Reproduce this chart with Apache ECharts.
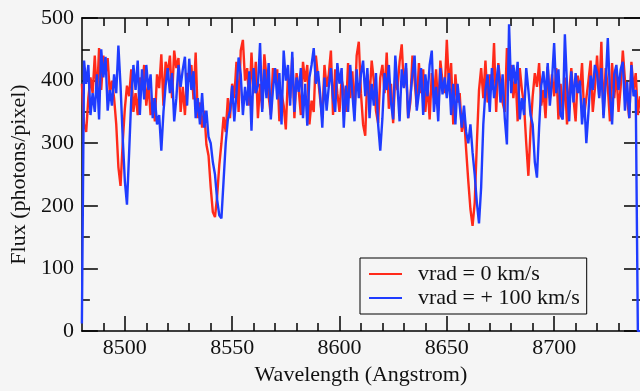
<!DOCTYPE html>
<html>
<head>
<meta charset="utf-8">
<title>Ca triplet spectra</title>
<script src="https://cdn.jsdelivr.net/npm/echarts@6/dist/echarts.min.js"></script>
<style>
  html, body { margin: 0; padding: 0; background: #f5f5f5; }
  #chart { width: 640px; height: 391px; }
</style>
</head>
<body>
<div id="chart"></div>
<script>
// wavelength grid: 8480 .. 8740 Angstrom, 1 A per sample
var lambdaStart = 8480
var lambdaStep = 1

// flux at vrad = 0 km/s
var fluxRest = [
  395, 330, 318, 372, 405, 380, 440, 372, 452, 385,
  440, 410, 436, 380, 400, 372, 330, 262, 232, 300,
  355, 392, 375, 418, 350, 380, 345, 405, 390, 425,
  360, 395, 345, 372, 335, 410, 388, 442, 360, 430,
  412, 440, 372, 448, 420, 436, 350, 390, 345, 412,
  398, 425, 370, 445, 340, 365, 325, 352, 298, 280,
  230, 190, 182, 215, 265, 300, 342, 318, 372, 340,
  395, 372, 430, 350, 448, 465, 400, 420, 360, 445,
  380, 430, 340, 395, 355, 442, 405, 375, 345, 420,
  398, 418, 335, 380, 360, 322, 410, 372, 437, 340,
  412, 385, 345, 430, 398, 425, 330, 368, 350, 440,
  405, 370, 340, 425, 390, 410, 448, 345, 418, 380,
  350, 402, 385, 350, 428, 372, 415, 345, 440, 462,
  380, 330, 312, 410, 372, 432, 400, 352, 332, 405,
  425, 380, 445, 355, 395, 332, 410, 385, 430, 458,
  390, 420, 340, 365, 440, 400, 358, 428, 380, 418,
  350, 395, 338, 412, 372, 418, 352, 432, 398, 380,
  465, 390, 428, 330, 410, 365, 380, 318, 345, 290,
  240, 195, 168, 205, 300, 385, 420, 372, 432, 365,
  410, 385, 460, 350, 428, 395, 365, 350, 452, 400,
  425, 372, 410, 335, 420, 385, 360, 300, 248, 320,
  375, 412, 390, 428, 360, 385, 340, 422, 372, 410,
  375, 420, 338, 395, 348, 405, 330, 380, 420, 372,
  335, 408, 380, 428, 345, 372, 400, 432, 350, 388,
  440, 375, 462, 345, 420, 390, 335, 428, 372, 415,
  350, 390, 448, 400, 372, 340, 430, 385, 412, 345, 375
]

// flux at vrad = +100 km/s
var fluxShifted = [
  12, 432, 395, 425, 345, 380, 350, 410, 338, 450,
  405, 438, 352, 385, 360, 410, 380, 456, 392, 310,
  240, 202, 285, 372, 425, 385, 432, 345, 418, 370,
  425, 385, 410, 340, 372, 330, 345, 288, 350, 392,
  420, 380, 412, 335, 372, 425, 390, 418, 438, 360,
  435, 385, 415, 340, 372, 330, 380, 325, 352, 310,
  300, 270, 250, 210, 185, 180, 240, 300, 338, 352,
  392, 335, 380, 437, 410, 345, 390, 360, 415, 320,
  420, 380, 392, 460, 350, 418, 372, 428, 338, 385,
  420, 370, 412, 330, 448, 400, 425, 360, 446, 350,
  405, 382, 420, 340, 395, 328, 405, 425, 452, 395,
  415, 378, 325, 405, 352, 390, 420, 372, 350, 428,
  395, 420, 325, 392, 350, 425, 380, 335, 418, 372,
  410, 432, 375, 420, 340, 395, 360, 412, 330, 288,
  340, 412, 385, 425, 365, 338, 440, 392, 335, 418,
  388, 428, 340, 372, 410, 440, 352, 380, 420, 345,
  410, 375, 425, 448, 350, 390, 335, 420, 378, 405,
  372, 412, 345, 395, 330, 395, 360, 325, 360, 318,
  300, 330, 285, 250, 205, 172, 230, 330, 385, 410,
  350, 420, 372, 395, 425, 365, 410, 340, 298, 490,
  380, 425, 395, 430, 338, 372, 345, 420, 385, 345,
  330, 270, 245, 325, 392, 415, 372, 428, 360, 400,
  460, 380, 418, 345, 338, 474, 392, 335, 415, 365,
  412, 380, 400, 330, 372, 300, 350, 408, 385, 425,
  412, 372, 420, 340, 395, 468, 380, 330, 410, 425,
  385, 418, 430, 352, 398, 340, 425, 375, 385, 0, 0
]

var seriesNames = ['vrad = 0 km/s', 'vrad = + 100 km/s']
var xMajorTicks = [8500, 8550, 8600, 8650, 8700]
var xMinorTicks = [8490, 8510, 8520, 8530, 8540, 8560, 8570, 8580, 8590,
  8610, 8620, 8630, 8640, 8660, 8670, 8680, 8690, 8710, 8720, 8730]

function pairs(values) {
  return values.map(function (v, i) {
    return [lambdaStart + i * lambdaStep, v]
  })
}

var font = "'Liberation Serif', 'DejaVu Serif', serif"
var xMin = 8480, xMax = 8740

function plain(v) {
  return String(v)
}

function xAxisDef(position, ticks, tickLen, withLine, withLabels) {
  return {
    type: 'value',
    position: position,
    min: xMin,
    max: xMax,
    axisLine: {show: withLine, lineStyle: {color: '#000', width: 1.5}},
    axisTick: {show: true, inside: true, length: tickLen, customValues: ticks,
      lineStyle: {color: '#000', width: 1.5}},
    axisLabel: {show: withLabels, customValues: ticks, margin: 6, formatter: plain,
      fontFamily: font, fontSize: 22, color: '#111'},
    splitLine: {show: false}
  }
}

function yAxisDef(position, withLine, withLabels) {
  return {
    type: 'value',
    position: position,
    min: 0,
    max: 500,
    interval: 100,
    axisLine: {show: withLine, lineStyle: {color: '#000', width: 1.5}},
    axisTick: {show: true, inside: true, length: 16, lineStyle: {color: '#000', width: 1.5}},
    minorTick: {show: true, splitNumber: 2, length: 8, lineStyle: {color: '#000', width: 1.5}},
    axisLabel: {show: withLabels, margin: 8, formatter: plain,
      fontFamily: font, fontSize: 22, color: '#111'},
    splitLine: {show: false},
    minorSplitLine: {show: false}
  }
}

var chart = echarts.init(document.getElementById('chart'))

var bottomMajor = xAxisDef('bottom', xMajorTicks, 15, true, true)
bottomMajor.name = 'Wavelength (Angstrom)'
bottomMajor.nameLocation = 'middle'
bottomMajor.nameGap = 30
bottomMajor.nameTextStyle = {fontFamily: font, fontSize: 22, color: '#111'}

var leftAxis = yAxisDef('left', true, true)
leftAxis.name = 'Flux (photons/pixel)'
leftAxis.nameLocation = 'middle'
leftAxis.nameGap = 50
leftAxis.nameTextStyle = {fontFamily: font, fontSize: 22, color: '#111'}

var option = {
  backgroundColor: '#f5f5f5',
  animation: false,
  grid: {left: 80, right: 0, top: 18, bottom: 53},
  xAxis: [
    bottomMajor,
    xAxisDef('bottom', xMinorTicks, 8, false, false),
    xAxisDef('top', xMajorTicks, 15, true, false),
    xAxisDef('top', xMinorTicks, 8, false, false)
  ],
  yAxis: [
    leftAxis,
    yAxisDef('right', false, false)
  ],
  legend: {
    orient: 'vertical',
    left: 360,
    top: 258,
    padding: [4, 7, 4, 9],
    itemGap: 0,
    itemWidth: 33,
    itemHeight: 2,
    icon: 'rect',
    borderColor: '#000',
    borderWidth: 1,
    data: seriesNames,
    textStyle: {fontFamily: font, fontSize: 22, color: '#111', lineHeight: 24,
      padding: [0, 0, 0, 11]}
  },
  series: [
    {
      name: seriesNames[0],
      type: 'line',
      data: pairs(fluxRest),
      showSymbol: false,
      symbol: 'none',
      color: '#ff2a1a',
      lineStyle: {width: 2.4, color: '#ff2a1a'}
    },
    {
      name: seriesNames[1],
      type: 'line',
      data: pairs(fluxShifted),
      showSymbol: false,
      symbol: 'none',
      color: '#1f3cff',
      lineStyle: {width: 2.4, color: '#1f3cff'}
    }
  ]
}

chart.setOption(option)
</script>
</body>
</html>
